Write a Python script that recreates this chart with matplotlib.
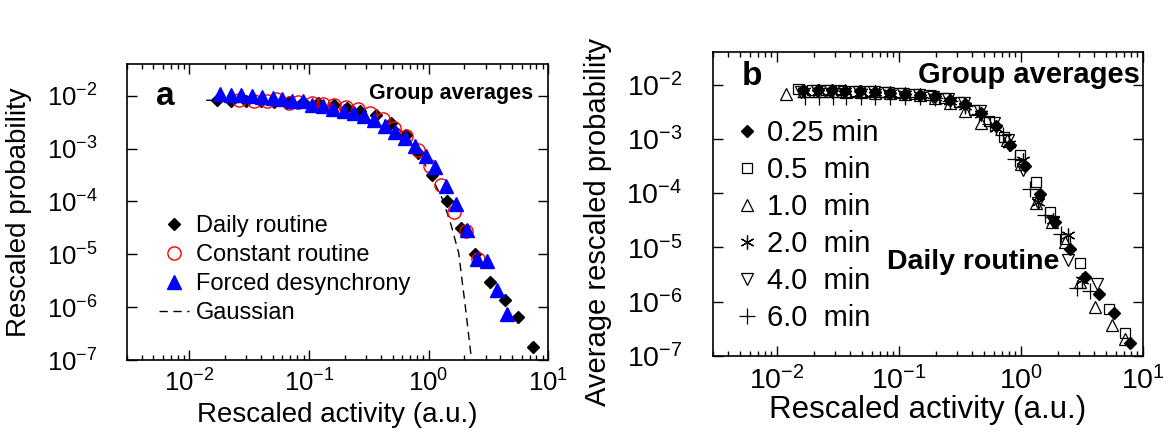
import numpy as np
import matplotlib
matplotlib.use("Agg")
import matplotlib.pyplot as plt

plt.rcParams["font.family"] = ["Liberation Sans", "DejaVu Sans"]
plt.rcParams["mathtext.fontset"] = "custom"
plt.rcParams["mathtext.rm"] = "Liberation Sans"
plt.rcParams["mathtext.it"] = "Liberation Sans:italic"
plt.rcParams["mathtext.bf"] = "Liberation Sans:bold"

# ---- panel a: group averages for the three protocols ----
daily_x = [0.0170, 0.0224, 0.0299, 0.0398, 0.0514, 0.0685, 0.0886, 0.118, 0.1625, 0.210,
           0.268, 0.362, 0.482, 0.643, 0.82, 1.074, 1.43, 1.87, 2.46, 3.24, 4.38, 5.66, 7.55]
daily_y = [8.2e-3, 7.9e-3, 7.9e-3, 7.8e-3, 7.65e-3, 7.55e-3, 7.65e-3, 7.3e-3, 6.6e-3, 5.9e-3,
           5.2e-3, 4.3e-3, 3.07e-3, 1.8e-3, 8.1e-4, 3.1e-4, 1.0e-4, 3.1e-5, 1.0e-5, 2.95e-6,
           1.38e-6, 6.4e-7, 1.78e-7]

const_x = [0.0262, 0.035, 0.0447, 0.0531, 0.0677, 0.0815, 0.105, 0.13, 0.1625, 0.206, 0.258,
           0.324, 0.416, 0.514, 0.652, 0.82, 1.026, 1.28, 1.63, 2.06, 2.59]
const_y = [8.2e-3, 8.0e-3, 8.0e-3, 8.5e-3, 7.4e-3, 7.65e-3, 7.3e-3, 7.1e-3, 6.8e-3, 6.0e-3,
           5.56e-3, 4.8e-3, 3.56e-3, 2.47e-3, 1.72e-3, 9.4e-4, 4.7e-4, 2.05e-4, 6.45e-5,
           2.8e-5, 8.1e-6]

forced_x = [0.0179, 0.0221, 0.0271, 0.0333, 0.0406, 0.0498, 0.0592, 0.0717, 0.0886, 0.107,
            0.132, 0.16, 0.195, 0.236, 0.289, 0.35, 0.43, 0.524, 0.635, 0.77, 0.944, 1.14,
            1.41, 1.71, 2.1, 2.55, 3.08, 3.73, 4.53]
forced_y = [1.1e-2, 1.05e-2, 1.02e-2, 9.8e-3, 9.5e-3, 9.1e-3, 8.6e-3, 8.0e-3, 7.9e-3, 6.8e-3,
            6.3e-3, 5.7e-3, 5.2e-3, 4.8e-3, 4.1e-3, 3.45e-3, 2.7e-3, 2.08e-3, 1.6e-3, 1.11e-3,
            7.3e-4, 4.4e-4, 1.96e-4, 9.0e-5, 2.9e-5, 8.2e-6, 7.5e-6, 2.14e-6, 7.4e-7]

gauss_x = [0.0138, 0.03, 0.06, 0.1, 0.2, 0.35, 0.5, 0.65, 0.82, 1.0, 1.15, 1.32, 1.55,
           1.79, 2.03, 2.27]
gauss_y = [8.2e-3, 8.0e-3, 7.7e-3, 7.3e-3, 6.0e-3, 4.3e-3, 2.9e-3, 1.8e-3, 8.5e-4, 3.8e-4,
           2.0e-4, 1.07e-4, 3.5e-5, 1.05e-5, 1.05e-6, 1.2e-7]

# ---- panel b: daily routine at different bin sizes ----
m025_x = [0.0164, 0.0218, 0.0281, 0.0361, 0.0485, 0.0636, 0.0843, 0.112, 0.149, 0.197, 0.262,
          0.348, 0.47, 0.62, 0.82, 1.09, 1.43, 1.9, 2.52, 3.35, 4.39, 5.82, 7.82]
m025_y = [7.9e-3, 7.9e-3, 7.85e-3, 7.6e-3, 7.5e-3, 7.3e-3, 7.1e-3, 6.8e-3, 6.5e-3, 6.1e-3,
          5.3e-3, 4.3e-3, 3.0e-3, 1.73e-3, 7.6e-4, 3.1e-4, 9.8e-5, 2.95e-5, 9.5e-6, 2.9e-6,
          1.36e-6, 6.3e-7, 1.7e-7]

m05_x = [0.0150, 0.0195, 0.0255, 0.0335, 0.044, 0.058, 0.076, 0.101, 0.134, 0.178, 0.236,
         0.312, 0.415, 0.55, 0.73, 0.98, 1.33, 1.73, 2.3, 3.05, 5.3, 7.1]
m05_y = [8.4e-3, 8.0e-3, 7.9e-3, 7.8e-3, 7.7e-3, 7.5e-3, 7.3e-3, 7.0e-3, 6.8e-3, 6.3e-3,
         5.7e-3, 4.8e-3, 3.46e-3, 2.1e-3, 1.06e-3, 5.0e-4, 1.6e-4, 4.5e-5, 1.4e-5, 5.2e-6,
         7.4e-7, 2.6e-7]

m10_x = [0.012, 0.0168, 0.0222, 0.0286, 0.037, 0.049, 0.064, 0.085, 0.113, 0.15, 0.199,
         0.264, 0.35, 0.47, 0.764, 1.01, 1.34, 1.79, 2.3, 3.05, 4.05, 5.55, 7.1]
m10_y = [6.8e-3, 7.6e-3, 7.7e-3, 7.6e-3, 7.4e-3, 7.3e-3, 7.1e-3, 6.9e-3, 6.6e-3, 6.3e-3,
         5.6e-3, 4.6e-3, 3.3e-3, 2.0e-3, 9.4e-4, 3.5e-4, 6.6e-5, 2.95e-5, 1.26e-5, 2.3e-6,
         8.0e-7, 3.7e-7, 2.1e-7]

m20_x = [0.0166, 0.022, 0.0284, 0.0365, 0.049, 0.064, 0.085, 0.113, 0.15, 0.199, 0.264,
         0.35, 0.47, 0.62, 0.80, 1.04, 1.39, 1.84, 2.41, 3.14]
m20_y = [7.6e-3, 7.7e-3, 7.6e-3, 7.5e-3, 7.4e-3, 7.2e-3, 7.0e-3, 6.7e-3, 6.4e-3, 5.9e-3,
         5.0e-3, 4.0e-3, 2.9e-3, 1.6e-3, 8.0e-4, 4.0e-4, 6.9e-5, 3.2e-5, 1.68e-5, 2.5e-6]

m40_x = [0.0158, 0.0212, 0.0275, 0.0355, 0.047, 0.062, 0.082, 0.109, 0.145, 0.192, 0.255,
         0.34, 0.46, 0.60, 0.78, 1.04, 1.39, 1.84, 2.44, 4.22]
m40_y = [7.3e-3, 7.5e-3, 7.5e-3, 7.4e-3, 7.3e-3, 7.2e-3, 6.9e-3, 6.7e-3, 6.4e-3, 6.0e-3,
         5.4e-3, 4.5e-3, 3.2e-3, 2.0e-3, 9.5e-4, 2.64e-4, 6.5e-5, 2.9e-5, 5.8e-6, 2.16e-6]

m60_x = [0.017, 0.0222, 0.029, 0.037, 0.049, 0.064, 0.085, 0.113, 0.15, 0.199, 0.264, 0.35,
         0.45, 0.56, 0.716, 0.893, 1.19, 1.57, 2.11, 2.86, 3.68]
m60_y = [6.0e-3, 5.9e-3, 6.0e-3, 6.0e-3, 6.0e-3, 6.0e-3, 6.0e-3, 5.9e-3, 5.8e-3, 5.6e-3,
         4.9e-3, 4.0e-3, 2.9e-3, 1.9e-3, 1.16e-3, 4.3e-4, 1.2e-4, 3.9e-5, 1.8e-5, 1.8e-6,
         1.6e-6]


def style_axes(ax, tick_size, ypad):
    ax.set_xscale("log")
    ax.set_yscale("log")
    ax.set_xlim(0.003, 10)
    ax.set_ylim(1e-7, 10 ** -1.4)
    ax.tick_params(which="both", direction="in", top=True, right=True, width=1)
    ax.tick_params(which="major", length=7)
    ax.tick_params(which="minor", length=3.5)
    ax.tick_params(axis="x", labelsize=tick_size, pad=7)
    ax.tick_params(axis="y", labelsize=tick_size, pad=ypad)
    ax.set_yticks([1e-2, 1e-3, 1e-4, 1e-5, 1e-6, 1e-7])
    ax.set_xticks([1e-2, 1e-1, 1e0, 1e1])
    for sp in ax.spines.values():
        sp.set_linewidth(1.2)


fig = plt.figure(figsize=(11.68, 4.34), dpi=100)

# panel a
ax1 = fig.add_axes([0.1087, 0.1705, 0.3605, 0.682])
ax1.plot(gauss_x, gauss_y, color="black", linestyle=(0, (6, 4)), linewidth=1.0,
         label="Gaussian", zorder=1)
ax1.plot(daily_x, daily_y, linestyle="none", marker="D", markersize=6.5, color="black",
         label="Daily routine", zorder=2)
ax1.plot(const_x, const_y, linestyle="none", marker="o", markersize=9.5, mfc="none",
         mec="red", mew=1.0, label="Constant routine", zorder=3)
ax1.plot(forced_x, forced_y, linestyle="none", marker="^", markersize=10, color="blue",
         label="Forced desynchrony", zorder=4)
style_axes(ax1, 18.5, 21)
ax1.set_xlabel("Rescaled activity (a.u.)", fontsize=20, labelpad=4)
ax1.set_ylabel("Rescaled probability", fontsize=20)
ax1.yaxis.set_label_coords(-0.226, 0.5)
ax1.text(0.09, 0.89, "a", transform=ax1.transAxes, fontsize=24, fontweight="bold",
         ha="center", va="center")
ax1.text(0.965, 0.90, "Group averages", transform=ax1.transAxes, fontsize=15.5,
         fontweight="bold", ha="right", va="center")
h, l = ax1.get_legend_handles_labels()
order = [1, 2, 3, 0]
ax1.legend([h[i] for i in order], [l[i] for i in order], loc="upper left",
           bbox_to_anchor=(0.075, 0.49), frameon=False, fontsize=17, borderpad=0,
           borderaxespad=0, handlelength=1.3, handletextpad=0.3, labelspacing=0.3,
           numpoints=1)

# panel b
ax2 = fig.add_axes([0.6104, 0.1797, 0.3682, 0.7005])
ax2.plot(m025_x, m025_y, linestyle="none", marker="D", markersize=6, color="black",
         label="0.25 min")
ax2.plot(m05_x, m05_y, linestyle="none", marker="s", markersize=7.5, mfc="none",
         mec="black", mew=0.9, label="0.5  min")
ax2.plot(m10_x, m10_y, linestyle="none", marker="^", markersize=9, mfc="none",
         mec="black", mew=0.9, label="1.0  min")
ax2.plot(m20_x, m20_y, linestyle="none", marker=(6, 2, 0), markersize=10, color="black",
         mew=0.9, label="2.0  min")
ax2.plot(m40_x, m40_y, linestyle="none", marker="v", markersize=9, mfc="none",
         mec="black", mew=0.9, label="4.0  min")
ax2.plot(m60_x, m60_y, linestyle="none", marker="+", markersize=11, color="black",
         mew=0.9, label="6.0  min")
style_axes(ax2, 20.5, 22)
ax2.set_xlabel("Rescaled activity (a.u.)", fontsize=22.5, labelpad=0)
ax2.set_ylabel("Average rescaled probability", fontsize=21)
ax2.yaxis.set_label_coords(-0.235, 0.44)
ax2.text(0.09, 0.92, "b", transform=ax2.transAxes, fontsize=24, fontweight="bold",
         ha="center", va="center")
ax2.text(0.993, 0.925, "Group averages", transform=ax2.transAxes, fontsize=21,
         fontweight="bold", ha="right", va="center")
ax2.text(0.405, 0.31, "Daily routine", transform=ax2.transAxes, fontsize=20.5,
         fontweight="bold", ha="left", va="center")
ax2.legend(loc="upper left", bbox_to_anchor=(0.045, 0.78), frameon=False, fontsize=21,
           borderpad=0, borderaxespad=0, handlelength=1.0, handletextpad=0.2,
           labelspacing=0.31, numpoints=1)

fig.savefig("out.png", dpi=100)
plt.close(fig)
